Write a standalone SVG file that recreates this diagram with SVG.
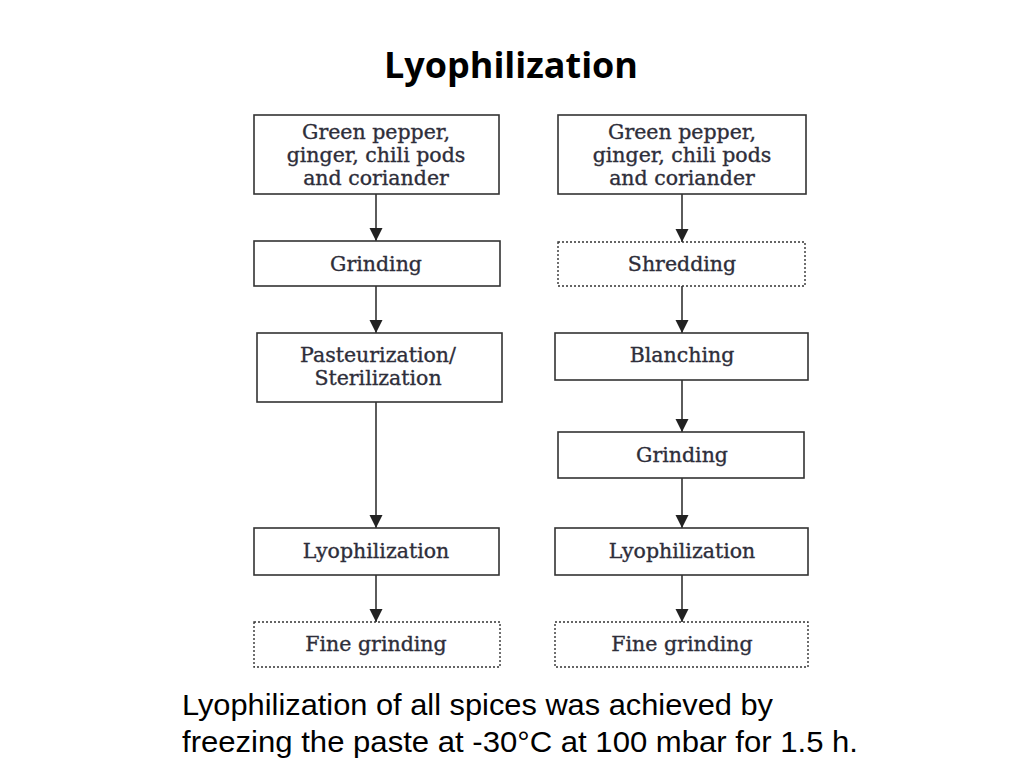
<svg xmlns="http://www.w3.org/2000/svg" width="1024" height="768" viewBox="0 0 1024 768">
<style>
.box{fill:#fff;stroke:#333;stroke-width:1.6}
.dot{fill:#fff;stroke:#333;stroke-width:1.4;stroke-dasharray:2 2}
.lbl{font-family:"DejaVu Serif","Liberation Serif",serif;font-size:20.5px;fill:#2e2e3a;stroke:#2e2e3a;stroke-width:0.35;text-anchor:middle}
.con{stroke:#333;stroke-width:1.6;fill:none;marker-end:url(#ah)}
.cap{font-family:"Liberation Sans",Arial,sans-serif;font-size:30px;fill:#000}
</style>
<defs>
<marker id="ah" markerUnits="userSpaceOnUse" markerWidth="14" markerHeight="14" refX="13" refY="6.5" orient="auto">
<path d="M0,0 L13,6.5 L0,13 z" fill="#222"/>
</marker>
</defs>
<rect width="1024" height="768" fill="#fff"/>
<text x="511" y="78" font-family="'Open Sans','Liberation Sans',sans-serif" font-weight="bold" font-size="35" text-anchor="middle" textLength="254" lengthAdjust="spacingAndGlyphs">Lyophilization</text>

<g id="connectors">
<line class="con" x1="376" y1="194" x2="376" y2="241"/>
<line class="con" x1="376" y1="286" x2="376" y2="333"/>
<line class="con" x1="376" y1="402" x2="376" y2="528"/>
<line class="con" x1="376" y1="575" x2="376" y2="622"/>
<line class="con" x1="682" y1="194" x2="682" y2="242"/>
<line class="con" x1="682" y1="286" x2="682" y2="333"/>
<line class="con" x1="682" y1="380" x2="682" y2="432"/>
<line class="con" x1="682" y1="478" x2="682" y2="528"/>
<line class="con" x1="682" y1="575" x2="682" y2="622"/>
</g>

<g id="l1"><rect class="box" x="254" y="115" width="245" height="79"/>
<text class="lbl" x="376" y="139">Green pepper,</text>
<text class="lbl" x="376" y="162">ginger, chili pods</text>
<text class="lbl" x="376" y="185">and coriander</text></g>
<g id="l2"><rect class="box" x="254" y="241" width="246" height="45"/>
<text class="lbl" x="376" y="271">Grinding</text></g>
<g id="l3"><rect class="box" x="257" y="333" width="245" height="69"/>
<text class="lbl" x="378" y="362">Pasteurization/</text>
<text class="lbl" x="378" y="385">Sterilization</text></g>
<g id="l4"><rect class="box" x="254" y="528" width="245" height="47"/>
<text class="lbl" x="376" y="558">Lyophilization</text></g>
<g id="l5"><rect class="dot" x="254" y="622" width="246" height="45"/>
<text class="lbl" x="376" y="651">Fine grinding</text></g>

<g id="r1"><rect class="box" x="558" y="115" width="248" height="79"/>
<text class="lbl" x="682" y="139">Green pepper,</text>
<text class="lbl" x="682" y="162">ginger, chili pods</text>
<text class="lbl" x="682" y="185">and coriander</text></g>
<g id="r2"><rect class="dot" x="558" y="242" width="247" height="44"/>
<text class="lbl" x="682" y="271">Shredding</text></g>
<g id="r3"><rect class="box" x="555" y="333" width="253" height="47"/>
<text class="lbl" x="682" y="362">Blanching</text></g>
<g id="r4"><rect class="box" x="558" y="432" width="246" height="46"/>
<text class="lbl" x="682" y="462">Grinding</text></g>
<g id="r5"><rect class="box" x="555" y="528" width="253" height="47"/>
<text class="lbl" x="682" y="558">Lyophilization</text></g>
<g id="r6"><rect class="dot" x="555" y="622" width="253" height="45"/>
<text class="lbl" x="682" y="651">Fine grinding</text></g>

<text class="cap" x="182" y="715" textLength="591" lengthAdjust="spacingAndGlyphs">Lyophilization of all spices was achieved by</text>
<text class="cap" x="182" y="752" textLength="676" lengthAdjust="spacingAndGlyphs">freezing the paste at -30°C at 100 mbar for 1.5 h.</text>
</svg>
